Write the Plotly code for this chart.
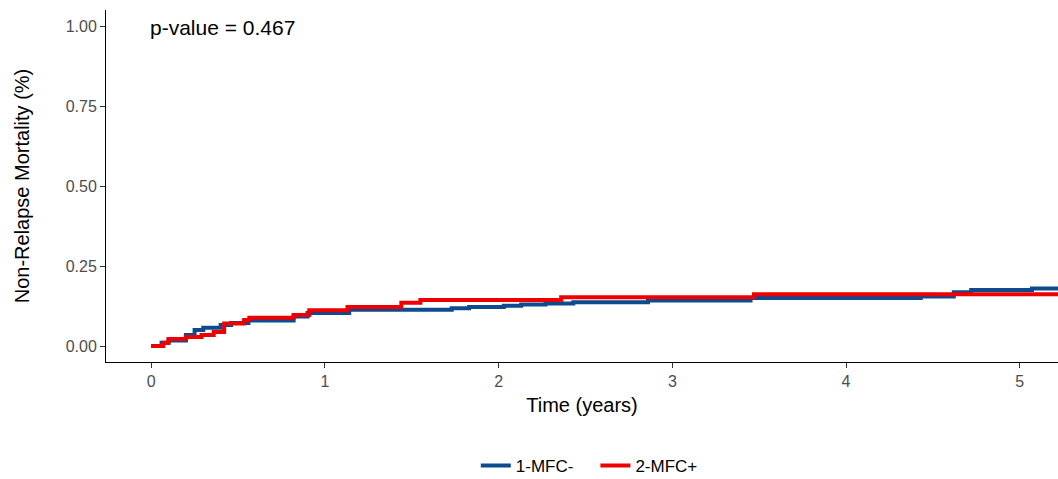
import plotly.graph_objects as go

# Cumulative incidence of non-relapse mortality (step curves)
mfc_neg_time = [0, 0.06, 0.10, 0.20, 0.25, 0.30, 0.40, 0.46, 0.56, 0.82, 0.90, 1.14,
                1.73, 1.83, 2.03, 2.13, 2.27, 2.43, 2.86, 3.45, 4.43, 4.62, 4.72, 5.07, 5.40]
mfc_neg_ci = [0, 0.010, 0.017, 0.034, 0.050, 0.057, 0.066, 0.072, 0.080, 0.092, 0.103, 0.113,
              0.118, 0.122, 0.126, 0.130, 0.133, 0.137, 0.142, 0.150, 0.155, 0.168, 0.175, 0.180, 0.180]

mfc_pos_time = [0, 0.07, 0.10, 0.20, 0.29, 0.36, 0.42, 0.535, 0.565, 0.82, 0.91, 1.13,
                1.44, 1.55, 2.36, 3.47, 5.40]
mfc_pos_ci = [0, 0.010, 0.022, 0.028, 0.034, 0.044, 0.070, 0.081, 0.088, 0.097, 0.112, 0.122,
              0.135, 0.144, 0.152, 0.162, 0.162]

x_ticks = [0, 1, 2, 3, 4, 5]
y_ticks = [0.00, 0.25, 0.50, 0.75, 1.00]
series_names = ["1-MFC-", "2-MFC+"]
p_value_text = "p-value = 0.467"

BLUE = "#0D4A8E"
RED = "#EE0000"
FONT = "Liberation Sans, Arial"

fig = go.Figure()
fig.add_trace(go.Scatter(x=mfc_neg_time, y=mfc_neg_ci, mode="lines", name=series_names[0] + "\u2003",
                         line=dict(color=BLUE, width=4, shape="hv")))
fig.add_trace(go.Scatter(x=mfc_pos_time, y=mfc_pos_ci, mode="lines", name=series_names[1],
                         line=dict(color=RED, width=4, shape="hv")))

fig.add_annotation(x=0, y=1.0, xref="x", yref="y", text=p_value_text, showarrow=False,
                   xanchor="left", yanchor="middle", xshift=-3, yshift=-1,
                   font=dict(family=FONT, size=21, color="black"))

axis_common = dict(showgrid=False, zeroline=False, showline=True, linecolor="black", linewidth=1,
                   ticks="outside", ticklen=5, tickcolor="#333333", automargin=False,
                   tickfont=dict(family=FONT, size=16, color="#4D4D4D"),
                   title_font=dict(family=FONT, size=20, color="black"))

fig.update_xaxes(range=[-0.26, 5.22], tickvals=x_ticks, title_text="Time (years)",
                 title_standoff=8, **axis_common)
fig.update_yaxes(range=[-0.05, 1.05], tickvals=y_ticks, tickformat=".2f",
                 title_text="Non-Relapse Mortality (%)", title_standoff=30, **axis_common)

fig.update_layout(
    width=1058, height=479,
    margin=dict(l=106, r=0, t=10, b=117, autoexpand=False),
    plot_bgcolor="white", paper_bgcolor="white",
    showlegend=True,
    legend=dict(orientation="h", xref="container", yref="container",
                x=0.557, xanchor="center", y=0.027, yanchor="middle",
                font=dict(family=FONT, size=17, color="black"),
                itemwidth=30, traceorder="normal"),
)

fig.write_html("out.html")
